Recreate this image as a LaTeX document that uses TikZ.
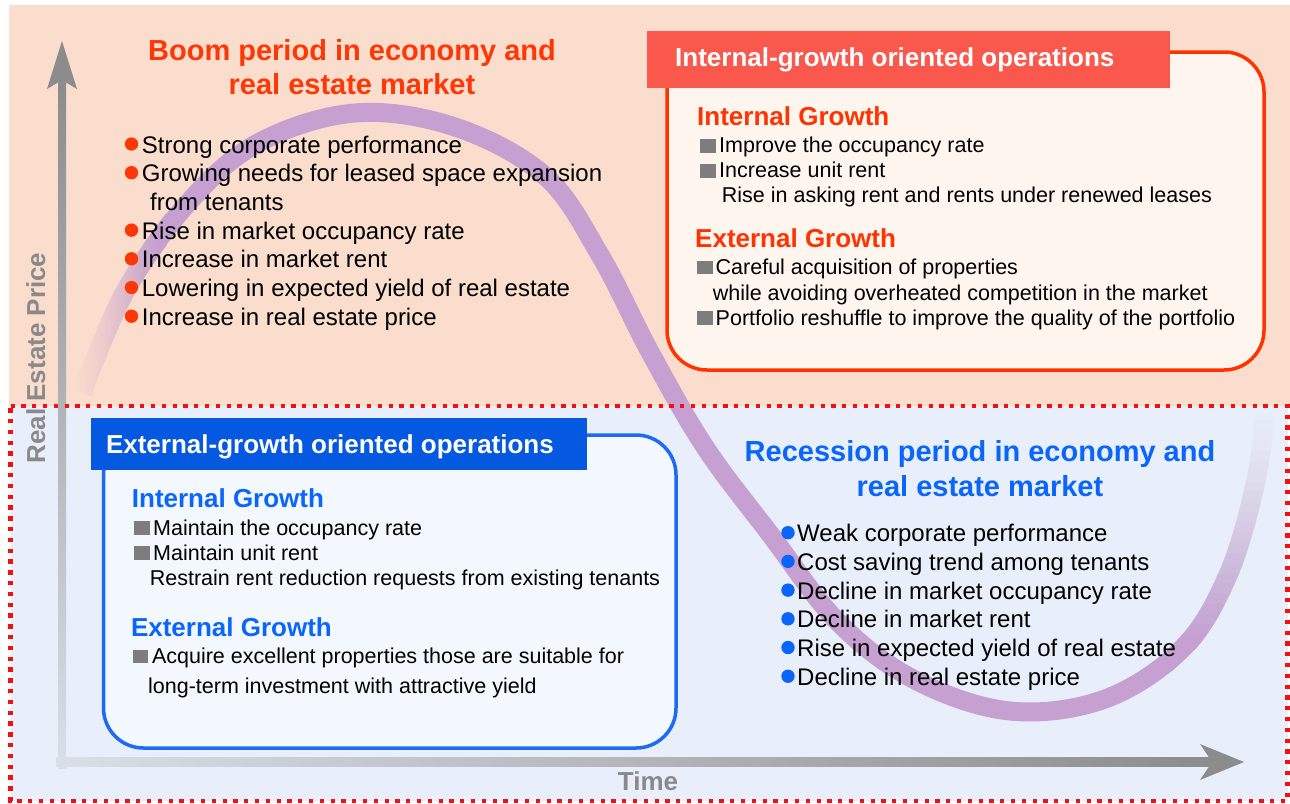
\documentclass[tikz,border=0pt]{standalone}
\usepackage{fontspec}
\setmainfont{Liberation Sans}

\definecolor{peach}{RGB}{250,221,204}
\definecolor{paleblue}{RGB}{233,239,250}
\definecolor{boomred}{RGB}{255,55,5}
\definecolor{bannerred}{RGB}{250,88,76}
\definecolor{boxred}{RGB}{255,51,0}
\definecolor{boxredfill}{RGB}{255,245,239}
\definecolor{recblue}{RGB}{10,102,250}
\definecolor{bannerblue}{RGB}{5,88,224}
\definecolor{boxblue}{RGB}{28,107,242}
\definecolor{boxbluefill}{RGB}{243,248,254}
\definecolor{axisgray}{RGB}{140,140,140}
\definecolor{axisfaint}{RGB}{218,223,232}
\definecolor{labelgray}{RGB}{138,138,138}
\definecolor{bandpurple}{RGB}{197,160,209}
\definecolor{dotred}{RGB}{245,15,15}
\definecolor{squaregray}{RGB}{125,125,125}

\begin{document}
\begin{tikzpicture}[x=1pt,y=-1pt,
  body/.style={anchor=base west, inner sep=0pt, font=\fontsize{24}{28}\selectfont},
  boxtxt/.style={anchor=base west, inner sep=0pt, font=\fontsize{21.5}{25}\selectfont},
  head/.style={anchor=base west, inner sep=0pt, font=\bfseries\fontsize{26}{30}\selectfont},
  bannertxt/.style={anchor=base west, inner sep=0pt, text=white, font=\bfseries\fontsize{26}{30}\selectfont},
  title/.style={anchor=base, inner sep=0pt, font=\bfseries\fontsize{29}{34}\selectfont},
  axislabel/.style={anchor=base, inner sep=0pt, text=labelgray, font=\bfseries\fontsize{26}{30}\selectfont},
  sqbullet/.style={fill=squaregray},
  band/.style={draw=bandpurple, line width=19pt},
  dotborder/.style={draw=dotred, line width=4.3pt, dash pattern=on 4.3pt off 6.5pt},
]
\useasboundingbox (0,0) rectangle (1290,803);

% backgrounds of the two market phases
\fill[peach] (8.5,5) rectangle (1290,406);
\fill[paleblue] (10.5,406) rectangle (1287.5,801);

% axes
\shade[top color=axisgray, bottom color=axisfaint] (58,80) rectangle (66,768);
\fill[axisgray] (62,41) -- (77,89) -- (62,80) -- (47,89) -- cycle;
\shade[left color=axisfaint, right color=axisgray] (56,757.5) rectangle (1212,766.5);
\fill[axisgray] (1244,762) -- (1200,744) -- (1212,762) -- (1200,780) -- cycle;

% the price cycle: solid in the middle, fading out at both ends
\path[save path=\cyclepath] plot[smooth, tension=0.6] coordinates {
  (82,393) (126,290) (188,203) (258,143) (355,113) (455,127) (545,176)
  (600,255) (650,352) (705,447) (770,534) (838,622) (915,680) (1010,711)
  (1105,699) (1183,648) (1228,575) (1255,485) (1265,415)};
\begin{scope}
  \clip (162,0) rectangle (1176,803);
  \draw[band, use path=\cyclepath];
\end{scope}
\begin{scope}
  \clip (1170,645) rectangle (1290,803);
  \draw[band, use path=\cyclepath];
\end{scope}
% stacked layers: the opacity reached after layer k is (k/24)^1.5
\foreach \k in {1,...,24} {
  \pgfmathsetmacro\ta{((\k-1)/24)*sqrt((\k-1)/24)}
  \pgfmathsetmacro\tb{(\k/24)*sqrt(\k/24)}
  \pgfmathsetmacro\al{(\tb-\ta)/(1-\ta)}
  \begin{scope}
    \clip (72+\k*3.75-3.75,0) rectangle (166,803);
    \draw[band, opacity=\al, use path=\cyclepath];
  \end{scope}
  \begin{scope}
    \clip (1170,400+\k*10.2-10.2) rectangle (1290,649);
    \draw[band, opacity=\al, use path=\cyclepath];
  \end{scope}
}

% dotted frame of the recession phase
\draw[dotborder] (10.5,406.3) -- (1287.5,406.3) -- (1287.5,801) -- (10.5,801) -- cycle;

% axis labels
\node[axislabel] (timelabel) at (648,790) {Time};
\node[axislabel, rotate=90] (pricelabel) at (45,358) {Real Estate Price};

% boom phase
\node[title, text=boomred] (boomA) at (352,60) {Boom period in economy and};
\node[title, text=boomred] (boomB) at (352,94.5) {real estate market};
\foreach \yb in {153,181.7,239.1,267.8,296.5,325.2}
  \fill[boomred] (131.5,\yb-9) circle (6.7pt);
\node[body] (b1) at (141.7,153) {Strong corporate performance};
\node[body] (b2) at (141.7,181.7) {Growing needs for leased space expansion};
\node[body] (b2b) at (150,210.4) {from tenants};
\node[body] (b3) at (141.7,239.1) {Rise in market occupancy rate};
\node[body] (b4) at (141.7,267.8) {Increase in market rent};
\node[body] (b5) at (141.7,296.5) {Lowering in expected yield of real estate};
\node[body] (b6) at (141.7,325.2) {Increase in real estate price};

% recession phase
\node[title, text=recblue] (recA) at (980,461.7) {Recession period in economy and};
\node[title, text=recblue] (recB) at (980,496.7) {real estate market};
\foreach \yb in {541.7,570.4,599.1,627.8,656.5,685.2}
  \fill[recblue] (788,\yb-9) circle (6.7pt);
\node[body] (r1) at (797,541.7) {Weak corporate performance};
\node[body] (r2) at (797,570.4) {Cost saving trend among tenants};
\node[body] (r3) at (797,599.1) {Decline in market occupancy rate};
\node[body] (r4) at (797,627.8) {Decline in market rent};
\node[body] (r5) at (797,656.5) {Rise in expected yield of real estate};
\node[body] (r6) at (797,685.2) {Decline in real estate price};

% internal-growth oriented operations
\draw[boxred, line width=3.5pt, fill=boxredfill, rounded corners=40pt] (667,52) rectangle (1264,370);
\fill[bannerred] (647,31) rectangle (1170,88);
\node[bannertxt] (intban) at (675,66.7) {Internal-growth oriented operations};
\node[head, text=boxred] (intIG) at (697,125) {Internal Growth};
\fill[sqbullet] (700,139) rectangle (715.5,152.7);
\node[boxtxt] (i1) at (719,152.7) {Improve the occupancy rate};
\fill[sqbullet] (700,164) rectangle (715.5,177.7);
\node[boxtxt] (i2) at (719,177.7) {Increase unit rent};
\node[boxtxt] (i3) at (721.7,202.7) {Rise in asking rent and rents under renewed leases};
\node[head, text=boxred] (intEG) at (695,247.3) {External Growth};
\fill[sqbullet] (697,260.6) rectangle (712.5,274.3);
\node[boxtxt] (i4) at (715.5,274.3) {Careful acquisition of properties};
\node[boxtxt] (i5) at (712.6,300) {while avoiding overheated competition in the market};
\fill[sqbullet] (697,311.3) rectangle (712.5,325);
\node[boxtxt] (i6) at (715.5,325) {Portfolio reshuffle to improve the quality of the portfolio};

% external-growth oriented operations
\draw[boxblue, line width=3.5pt, fill=boxbluefill, rounded corners=40pt] (103.5,435) rectangle (676,748);
\fill[bannerblue] (91,418) rectangle (587,470);
\node[bannertxt] (extban) at (105.8,453.3) {External-growth oriented operations};
\node[head, text=recblue] (extIG) at (131.7,507.3) {Internal Growth};
\fill[sqbullet] (134,521.3) rectangle (149.6,535);
\node[boxtxt] (e1) at (153,535) {Maintain the occupancy rate};
\fill[sqbullet] (134,546.3) rectangle (149.6,560);
\node[boxtxt] (e2) at (153,560) {Maintain unit rent};
\node[boxtxt] (e3) at (149.6,585.7) {Restrain rent reduction requests from existing tenants};
\node[head, text=recblue] (extEG) at (130.8,636) {External Growth};
\fill[sqbullet] (132.6,649.6) rectangle (148,663.3);
\node[boxtxt] (e4) at (151.8,663.3) {Acquire excellent properties those are suitable for};
\node[boxtxt] (e5) at (148,693.3) {long-term investment with attractive yield};
\end{tikzpicture}
\end{document}
